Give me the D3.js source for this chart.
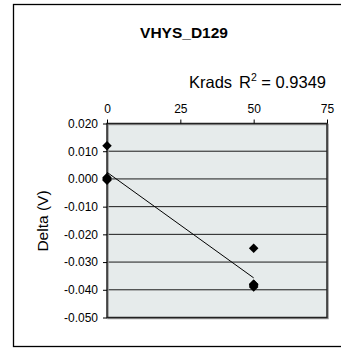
<!DOCTYPE html>
<html><head><meta charset="utf-8">
<script src="https://cdn.jsdelivr.net/npm/d3@7"></script>
<style>body{margin:0;background:#fff}svg{display:block;font-family:"Liberation Sans",Arial,sans-serif}</style>
</head><body>
<svg id="c" width="341" height="348"></svg>
<script>
const title = "VHYS_D129";
const xLabel = "Krads";
const yLabel = "Delta (V)";
const r2Text = "0.9349";
const xTicks = [0, 25, 50, 75];
const yTicks = [0.02, 0.01, 0, -0.01, -0.02, -0.03, -0.04, -0.05];
const xValues = [0, 0, 0, 0, 0, 50, 50, 50, 50, 50];
const yValues = [0.012, 0.0, 0.0, -0.0005, 0.0005, -0.025, -0.038, -0.038, -0.0385, -0.039];

const svg = d3.select("#c");
const L = 107, R = 327, T = 123.5, B = 317.5;
const x = d3.scaleLinear().domain([0, 75]).range([L, R]);
const y = d3.scaleLinear().domain([-0.05, 0.02]).range([B, T]);

// outer frame
svg.append("rect").attr("x", 13.5).attr("y", 4.5).attr("width", 360).attr("height", 342)
  .attr("fill", "#fff").attr("stroke", "#000").attr("stroke-width", 1.3);

// plot background
svg.append("rect").attr("x", L).attr("y", T).attr("width", R - L).attr("height", B - T)
  .attr("fill", "#e6ebeb");

// gridlines
svg.append("g").selectAll("line").data(yTicks.slice(1, -1)).join("line")
  .attr("x1", L).attr("x2", R).attr("y1", d => y(d)).attr("y2", d => y(d))
  .attr("stroke", "#1a1a1a").attr("stroke-width", 1);

// plot border with slight shadow
svg.append("rect").attr("x", L + 1).attr("y", T + 1).attr("width", R - L).attr("height", B - T)
  .attr("fill", "none").attr("stroke", "#999").attr("stroke-width", 1.5);
svg.append("rect").attr("x", L).attr("y", T).attr("width", R - L).attr("height", B - T)
  .attr("fill", "none").attr("stroke", "#222").attr("stroke-width", 1.5);

// axes
const xa = svg.append("g").attr("transform", `translate(0,${T})`)
  .call(d3.axisTop(x).tickValues(xTicks).tickFormat(d3.format("d")).tickSize(4).tickSizeOuter(0));
xa.select(".domain").remove();
xa.selectAll("text").attr("font-size", 12).attr("fill", "#000").attr("dy", "-0.3em");
xa.selectAll("line").attr("stroke", "#000");

const ya = svg.append("g").attr("transform", `translate(${L},0)`)
  .call(d3.axisLeft(y).tickValues(yTicks).tickFormat(d3.format(".3f")).tickSize(4).tickSizeOuter(0));
ya.select(".domain").remove();
ya.selectAll("text").attr("font-size", 12).attr("fill", "#000").attr("x", -9)
  .text(d => d3.format(".3f")(d).replace("−", "-"));
ya.selectAll("line").attr("stroke", "#000");

// trendline via least squares
const n = xValues.length;
const mx = d3.mean(xValues), my = d3.mean(yValues);
let sxy = 0, sxx = 0;
for (let i = 0; i < n; i++) { sxy += (xValues[i] - mx) * (yValues[i] - my); sxx += (xValues[i] - mx) ** 2; }
const slope = sxy / sxx, icpt = my - slope * mx;
const xmin = d3.min(xValues), xmax = d3.max(xValues);
svg.append("line").attr("x1", x(xmin)).attr("y1", y(icpt + slope * xmin))
  .attr("x2", x(xmax)).attr("y2", y(icpt + slope * xmax))
  .attr("stroke", "#000").attr("stroke-width", 1);

// markers
const sym = d3.symbol().type(d3.symbolDiamond2).size(58);
svg.append("g").selectAll("path").data(xValues.map((v, i) => [v, yValues[i]])).join("path")
  .attr("d", sym).attr("transform", d => `translate(${x(d[0])},${y(d[1])})`)
  .attr("fill", "#000");

// title
svg.append("text").attr("x", 184).attr("y", 37.5).attr("text-anchor", "middle")
  .attr("font-size", 15.5).attr("font-weight", "bold").text(title);

// x label
svg.append("text").attr("x", 189).attr("y", 87.5).attr("font-size", 16.5).text(xLabel);

// R^2
const rt = svg.append("text").attr("x", 239).attr("y", 87.5).attr("font-size", 16.5);
rt.append("tspan").text("R");
rt.append("tspan").attr("font-size", 10.5).attr("dy", -7).text("2");
rt.append("tspan").attr("dy", 7).text(" = " + r2Text);

// y label
svg.append("text").attr("transform", "translate(48,221) rotate(-90)")
  .attr("text-anchor", "middle").attr("font-size", 15.5).text(yLabel);
</script>
</body></html>
